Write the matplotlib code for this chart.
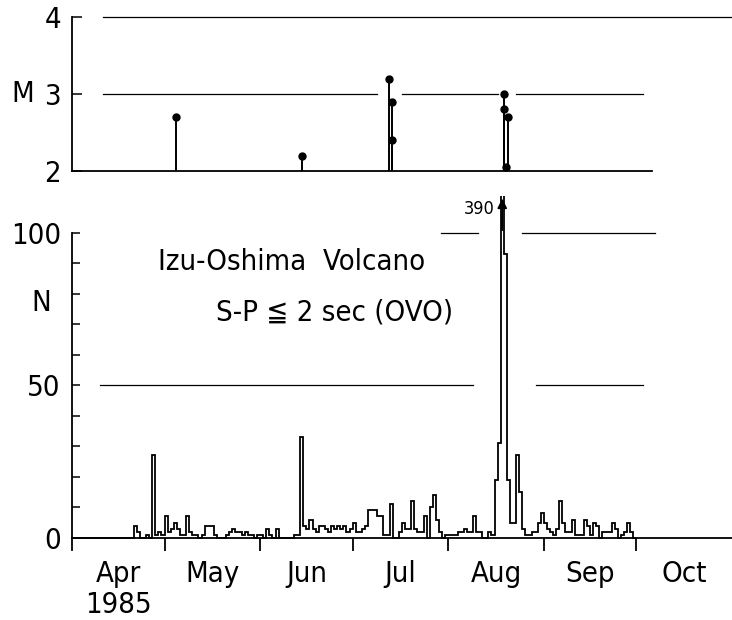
import numpy as np
import matplotlib
matplotlib.use("Agg")
import matplotlib.pyplot as plt

plt.rcParams['font.family'] = ['DejaVu Sans']

# daily counts N (S-P <= 2 sec at OVO), 1 Apr - 30 Sep 1985
apr = [0, 0, 0, 0, 0, 0, 0, 0, 0, 0, 0, 0, 0, 0, 0, 0, 0, 0, 0, 0,
       4, 2, 0, 0, 1, 0, 27, 1, 2, 1]
may = [7, 2, 3, 5, 3, 1, 1, 7, 2, 1, 1, 0, 1, 4, 4, 4, 1, 0, 0, 0,
       1, 2, 3, 2, 2, 1, 2, 1, 1, 0, 1]
jun = [1, 0, 3, 1, 0, 3, 0, 0, 0, 0, 0, 1, 1, 33, 4, 3, 6, 3, 2, 4,
       4, 3, 2, 4, 3, 4, 3, 4, 2, 3]
jul = [5, 2, 2, 3, 4, 9, 9, 9, 7, 7, 1, 1, 11, 0, 0, 2, 5, 3, 3, 12,
       3, 2, 2, 7, 0, 10, 14, 6, 2, 0, 1]
aug = [1, 1, 1, 2, 2, 3, 2, 2, 7, 2, 2, 0, 0, 2, 1, 19, 31, 390, 93, 19,
       5, 5, 27, 15, 3, 1, 1, 2, 2, 5, 8]
sep = [5, 3, 2, 1, 3, 12, 5, 2, 2, 6, 1, 1, 1, 6, 4, 1, 5, 4, 0, 2,
       2, 2, 5, 3, 0, 1, 2, 5, 2, 0]
counts = np.array(apr + may + jun + jul + aug + sep)

# magnitudes of larger events: day since 1 Apr, M
quake_day = [33.8, 74.7, 102.9, 103.9, 103.9, 140.0, 140.0, 141.5, 140.6]
quake_mag = [2.7, 2.2, 3.2, 2.9, 2.4, 3.0, 2.8, 2.7, 2.05]

months = ['Apr', 'May', 'Jun', 'Jul', 'Aug', 'Sep', 'Oct']
month_len = [30, 31, 30, 31, 31, 30, 31]
month_start = np.concatenate([[0], np.cumsum(month_len)])
peak_label = '390'

W, H = 732, 620
fig = plt.figure(figsize=(W / 100, H / 100), dpi=100)
fs = 21
txt = dict(fontsize=fs, fontstretch='condensed', color='black')


def hseg(a, y, x0, x1):
    # broken reference lines drawn as separate segments
    for a0, a1 in zip(x0, x1):
        a.plot([a0, a1], [y, y], color='black', lw=0.9, clip_on=False)


# ---- bottom panel: daily number N ----
ax = fig.add_axes([72 / W, 1 - 550 / H, 660 / W, 354 / H])
ax.set_xlim(0, month_start[-1])
ax.set_ylim(-4, 112.1)
ax.stairs(counts, np.arange(len(counts) + 1), color='black', lw=1.3)
for s in ['top', 'right']:
    ax.spines[s].set_visible(False)
ax.spines['bottom'].set_position(('data', 0))
ax.spines['left'].set_bounds(-4, 100)
for s in ['bottom', 'left']:
    ax.spines[s].set_linewidth(1.3)
ax.set_xticks(month_start[1:-1])
ax.tick_params(axis='x', direction='out', length=9, width=1.3, labelbottom=False)
ax.set_yticks([0, 50, 100])
ax.set_yticks(np.arange(10, 100, 10), minor=True)
ax.set_yticklabels(['0', '50', '100'], **txt)
ax.tick_params(axis='y', which='both', direction='in', length=6, width=1.1, pad=8)

hseg(ax, 50, [9, 150.6], [130, 185])
hseg(ax, 100, [119.5, 146], [131.5, 189])

mid = (month_start[:-1] + month_start[1:]) / 2
for m, x in zip(months, mid):
    ax.text(x, -14.4, m, ha='center', va='baseline', clip_on=False, **txt)
ax.text(mid[0], -24.6, '1985', ha='center', va='baseline', clip_on=False, **txt)

peak_x = np.argmax(counts) + 0.5
ax.annotate('', xy=(peak_x, 112.2), xytext=(peak_x, 100),
            arrowprops=dict(arrowstyle='-|>', color='black', lw=1.3,
                            mutation_scale=14), annotation_clip=False)
ax.text(peak_x - 2.5, 107.8, peak_label, ha='right', va='center',
        fontsize=13, fontstretch='condensed')

fig.text(41 / W, 1 - 303 / H, 'N', ha='center', va='center', **txt)
fig.text(292 / W, 1 - 262 / H, 'Izu-Oshima  Volcano', ha='center', va='center', **txt)
fig.text(335 / W, 1 - 313 / H, 'S-P \u2266 2 sec (OVO)', ha='center', va='center', **txt)

# ---- top panel: magnitude M ----
axm = fig.add_axes([72 / W, 1 - 171 / H, 660 / W, 154 / H])
axm.set_xlim(0, month_start[-1])
axm.set_ylim(2, 4)
for s in ['top', 'right']:
    axm.spines[s].set_visible(False)
axm.spines['bottom'].set_bounds(0, 188)
for s in ['bottom', 'left']:
    axm.spines[s].set_linewidth(1.3)
axm.set_xticks([])
axm.set_yticks([2, 3, 4])
axm.set_yticklabels(['2', '3', '4'], **txt)
axm.tick_params(axis='y', direction='in', length=7, width=1.1, pad=8)
hseg(axm, 4, [10], [214])
hseg(axm, 3, [10, 107, 144], [99, 138, 185])
axm.vlines(quake_day, 2, quake_mag, color='black', lw=1.4)
axm.plot(quake_day, quake_mag, 'o', color='black', ms=5, clip_on=False)
fig.text(23 / W, 1 - 94 / H, 'M', ha='center', va='center', **txt)

fig.savefig('out.png', dpi=100)
